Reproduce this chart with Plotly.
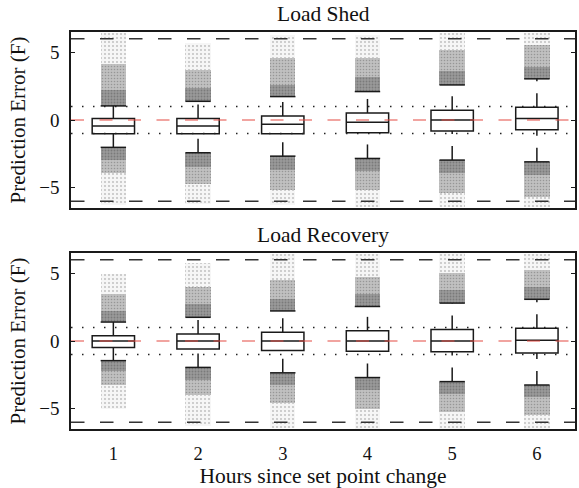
import plotly.graph_objects as go
from plotly.subplots import make_subplots

HOURS = [1, 2, 3, 4, 5, 6]
X_RANGE = [0.5, 6.45]
Y_RANGE = [-6.5, 6.5]
LIMIT_LINES = [-6, 6]      # dashed black bounds
BAND_LINES = [-1, 1]       # dotted black tolerance band
ZERO_LINE = 0              # red dashed reference

# ---- Load Shed: box statistics (F) ----
SHED_Q1 = [-1.01, -1.01, -1.01, -0.94, -0.81, -0.72]
SHED_MED = [-0.44, -0.44, -0.32, -0.17, 0.0, 0.12]
SHED_Q3 = [0.12, 0.12, 0.30, 0.52, 0.72, 0.94]
SHED_UP_ADJ = [1.04, 1.38, 1.73, 2.10, 2.59, 3.04]
SHED_LO_ADJ = [-2.02, -2.42, -2.67, -2.84, -2.96, -3.09]
# outlier cloud extents (dense core, mid density, sparse tail)
SHED_UP_CORE = [2.2, 2.35, 2.6, 3.2, 3.6, 3.95]
SHED_UP_MID = [4.1, 3.7, 4.6, 4.6, 5.2, 5.55]
SHED_UP_MAX = [6.4, 5.7, 6.3, 6.3, 6.4, 6.45]
SHED_LO_CORE = [-2.96, -3.46, -3.7, -3.8, -3.95, -4.07]
SHED_LO_MID = [-3.95, -4.7, -5.2, -5.2, -5.4, -5.7]
SHED_LO_MIN = [-6.3, -6.2, -6.3, -6.4, -6.4, -6.45]

# ---- Load Recovery: box statistics (F) ----
REC_Q1 = [-0.48, -0.60, -0.70, -0.75, -0.80, -0.88]
REC_MED = [0.0, 0.0, 0.0, 0.0, 0.0, 0.05]
REC_Q3 = [0.38, 0.52, 0.65, 0.75, 0.85, 0.95]
REC_UP_ADJ = [1.40, 1.75, 2.22, 2.55, 2.80, 3.08]
REC_LO_ADJ = [-1.45, -1.95, -2.35, -2.70, -3.00, -3.25]
REC_UP_CORE = [2.25, 2.75, 3.1, 3.5, 3.75, 4.0]
REC_UP_MID = [3.5, 4.0, 4.5, 4.75, 5.0, 5.25]
REC_UP_MAX = [4.95, 5.75, 6.45, 6.4, 6.5, 6.45]
REC_LO_CORE = [-2.25, -2.9, -3.25, -3.6, -3.9, -4.1]
REC_LO_MID = [-3.25, -4.0, -4.6, -5.0, -5.25, -5.5]
REC_LO_MIN = [-5.0, -6.3, -6.4, -6.5, -6.5, -6.5]

FONT = "Liberation Serif, Times New Roman, serif"
CLOUD_W = 0.30
BOX_W = 0.50
CAP_HALF = 0.15

fig = make_subplots(rows=2, cols=1, vertical_spacing=45 / 397)

# fill + stipple texture for each density level of the outlier clouds
DENSITY = {
    "core": dict(color="rgba(120,120,120,0.75)", fg="#5a5a5a", size=3, solidity=0.3),
    "mid": dict(color="rgba(140,140,140,0.55)", fg="#6e6e6e", size=3, solidity=0.22),
    "tail": dict(color="rgba(190,190,190,0.15)", fg="#808080", size=4, solidity=0.16),
}


def cloud(row, lows, highs, level):
    p = DENSITY[level]
    fig.add_trace(go.Bar(
        x=HOURS, base=lows, y=[h - l for h, l in zip(highs, lows)],
        width=CLOUD_W, showlegend=False, hoverinfo="skip",
        marker=dict(color=p["color"], line_width=0,
                    pattern=dict(shape=".", fgcolor=p["fg"], size=p["size"],
                                 solidity=p["solidity"], fillmode="overlay")),
    ), row=row, col=1)


def hline(row, y, color, dash, width):
    fig.add_trace(go.Scatter(
        x=X_RANGE, y=[y, y], mode="lines", showlegend=False, hoverinfo="skip",
        line=dict(color=color, dash=dash, width=width),
    ), row=row, col=1)


def panel(row, q1, med, q3, up_adj, lo_adj, up_core, up_mid, up_max,
          lo_core, lo_mid, lo_min):
    # outlier clouds
    cloud(row, up_adj, up_core, "core")
    cloud(row, up_core, up_mid, "mid")
    cloud(row, up_mid, up_max, "tail")
    cloud(row, lo_core, lo_adj, "core")
    cloud(row, lo_mid, lo_core, "mid")
    cloud(row, lo_min, lo_mid, "tail")

    for y in LIMIT_LINES:
        hline(row, y, "#333333", "13.5px,15.5px", 1.3)
    for y in BAND_LINES:
        hline(row, y, "#222222", "1.5px,9.5px", 1.5)

    # boxes (quartiles and median)
    fig.add_trace(go.Box(
        x=HOURS, q1=q1, median=med, q3=q3, lowerfence=q1, upperfence=q3,
        width=BOX_W, whiskerwidth=0, boxpoints=False,
        line=dict(color="#1a1a1a", width=1.5), fillcolor="rgba(255,255,255,0)",
        showlegend=False, hoverinfo="skip",
    ), row=row, col=1)

    # dashed whiskers
    for h, a, b in zip(HOURS, q3, up_adj):
        fig.add_trace(go.Scatter(x=[h, h], y=[a, b], mode="lines",
                                 showlegend=False, hoverinfo="skip",
                                 line=dict(color="#1a1a1a", width=1.5, dash="14px,12px")),
                      row=row, col=1)
    for h, a, b in zip(HOURS, lo_adj, q1):
        fig.add_trace(go.Scatter(x=[h, h], y=[a, b], mode="lines",
                                 showlegend=False, hoverinfo="skip",
                                 line=dict(color="#1a1a1a", width=1.5, dash="14px,12px")),
                      row=row, col=1)

    # whisker caps
    cx, cy = [], []
    for h, u, l in zip(HOURS, up_adj, lo_adj):
        cx += [h - CAP_HALF, h + CAP_HALF, None, h - CAP_HALF, h + CAP_HALF, None]
        cy += [u, u, None, l, l, None]
    fig.add_trace(go.Scatter(x=cx, y=cy, mode="lines", showlegend=False,
                             hoverinfo="skip", connectgaps=False,
                             line=dict(color="#1a1a1a", width=1.5)), row=row, col=1)

    hline(row, ZERO_LINE, "#e34a42", "13px,15.5px", 1.1)


panel(1, SHED_Q1, SHED_MED, SHED_Q3, SHED_UP_ADJ, SHED_LO_ADJ,
      SHED_UP_CORE, SHED_UP_MID, SHED_UP_MAX, SHED_LO_CORE, SHED_LO_MID, SHED_LO_MIN)
panel(2, REC_Q1, REC_MED, REC_Q3, REC_UP_ADJ, REC_LO_ADJ,
      REC_UP_CORE, REC_UP_MID, REC_UP_MAX, REC_LO_CORE, REC_LO_MID, REC_LO_MIN)

axis_common = dict(showline=True, linecolor="#1a1a1a", linewidth=1.5,
                   showgrid=False, zeroline=False)

for r in (1, 2):
    fig.update_xaxes(range=X_RANGE, tickvals=HOURS, ticks="", mirror=True,
                     showticklabels=(r == 2), ticklabelstandoff=7,
                     tickfont=dict(family=FONT, size=18.5, color="#111"),
                     row=r, col=1, **axis_common)
    fig.update_yaxes(range=Y_RANGE, tickvals=[-5, 0, 5], ticks="inside", ticklen=4,
                     mirror="ticks", tickcolor="#1a1a1a", tickwidth=1.2,
                     ticklabelstandoff=6,
                     tickfont=dict(family=FONT, size=19, color="#111"),
                     title=dict(text="Prediction Error (F)", standoff=8,
                                font=dict(family=FONT, size=21, color="#111")),
                     row=r, col=1, **axis_common)

fig.update_xaxes(title=dict(text="Hours since set point change", standoff=6,
                            font=dict(family=FONT, size=21.5, color="#111")), row=2, col=1)

for text, dom in (("Load Shed", fig.layout.yaxis.domain),
                  ("Load Recovery", fig.layout.yaxis2.domain)):
    fig.add_annotation(text=text, xref="paper", yref="paper", x=0.5, y=dom[1],
                       yanchor="bottom", showarrow=False, yshift=4,
                       font=dict(family=FONT, size=21.5, color="#111"))

fig.update_layout(
    width=579, height=488, margin=dict(l=71, r=2, t=32, b=59),
    paper_bgcolor="white", plot_bgcolor="white",
    barmode="overlay", boxmode="overlay", bargap=0,
)

fig.write_html("out.html")
